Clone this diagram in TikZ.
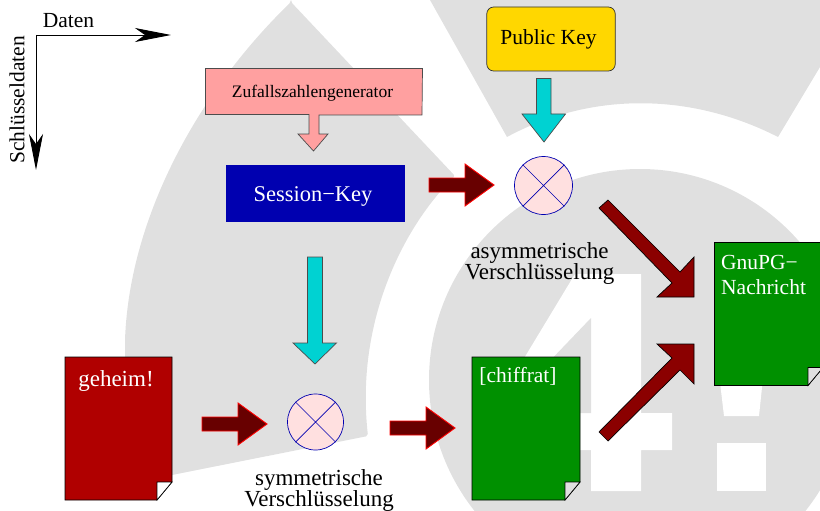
\documentclass[tikz,border=0pt]{standalone}
\usepackage{fontspec}
\setmainfont{Liberation Serif}
\usetikzlibrary{arrows.meta}
\definecolor{wm}{RGB}{224,224,224}
\definecolor{pinkbox}{RGB}{255,160,160}
\definecolor{navy}{RGB}{0,0,176}
\definecolor{gold}{RGB}{255,215,0}
\definecolor{cyanar}{RGB}{0,210,210}
\definecolor{maroon}{RGB}{139,0,0}
\definecolor{darkm}{RGB}{104,0,0}
\definecolor{docred}{RGB}{176,0,0}
\definecolor{docgreen}{RGB}{0,144,0}
\definecolor{mixfill}{RGB}{255,224,224}
\tikzset{
  x=1pt,y=-1pt,
  blockarrow/.style={draw=#1,line width=0.9pt,line join=miter},
  maxis/.style={line width=0.9pt,-{Stealth[length=36pt,width=14pt,inset=10pt]}},
  lab/.style={font=\fontsize{21.5}{22}\selectfont,inner sep=0pt,align=center},
  mixer/.style={circle,draw=navy,fill=mixfill,line width=0.7pt,minimum size=#1,inner sep=0pt},
  doc/.style={draw=black,line width=0.7pt,line join=miter},
  doctext/.style={text=white,inner sep=0pt,font=\fontsize{21.5}{25}\selectfont},
  caption/.style={inner sep=0pt,align=center,font=\fontsize{23}{21}\selectfont},
}
\newcommand{\docshape}[6]{% x0 y0 x1 y1 colour foldcolour
  \draw[doc,fill=#5] (#1,#2) -- (#3,#2) -- (#3,#4-18) -- (#3-15,#4) -- (#1,#4) -- cycle;
  \draw[doc,fill=#6] (#3,#4-18) -- (#3-15,#4-18) -- (#3-15,#4) -- cycle;
}
\begin{document}
\begin{tikzpicture}
\useasboundingbox (0,0) rectangle (820,511);
% watermark
\fill[wm,rounded corners=2pt] (291,2) -- (455,176) .. controls (405,225) and (355,320) .. (368,436)
  -- (172,475) -- (125,484) -- (125,340) .. controls (130,215) and (200,90) .. cycle;
\fill[wm] (430,0) -- (507,137) .. controls (590,92) and (690,92) .. (778,137) -- (820,67) -- (820,0) -- cycle;
\fill[wm] (640,380) circle (211);
\fill[white] (575,274) -- (641,274) -- (641,413) -- (672,413) -- (672,450) -- (641,450) -- (641,491) -- (591,491) -- (591,450) -- (491,450) -- (491,413) -- cycle;
\fill[wm] (591,318) -- (591,413) -- (500,413) -- cycle;
\fill[white] (715,340) -- (767,340) -- (759,416) -- (724,416) -- cycle;
\fill[white] (717,443) rectangle (766,491);
% axes
\coordinate (origin) at (36,35);
\coordinate (xend) at (171,35);
\coordinate (yend) at (36,170);
\draw[maxis] (origin) -- (xend);
\draw[maxis] (origin) -- (yend);
\node[lab] (datenlab) at (68.500,21) {Daten};
\node[lab,rotate=90] (schlab) at (17,100) {Schlüsseldaten};
% generator
\draw[blockarrow=black!70,line width=0.7pt,fill=pinkbox] (205.500,68.500) -- (422.500,68.500) -- (422,115) -- (319,115) -- (319,134) -- (328,134) -- (313.500,151) -- (298,134) -- (309,134) -- (309,114.500) -- (205.500,114.500) -- cycle;
\node[inner sep=0pt,font=\fontsize{17.500}{18}\selectfont] (zufall) at (312.500,93) {Zufallszahlengenerator};
% session
\node[fill=navy,minimum width=178.500pt,minimum height=56.500pt,inner sep=0pt,text=white,font=\fontsize{22.500}{24}\selectfont] (session) at (315.500,193.500) {\hspace*{-5pt}\raisebox{-2.5pt}[\height][\depth]{Session−Key}};
% public key
\node[draw=black!80,fill=gold,rounded corners=7pt,minimum width=128.500pt,minimum height=64pt,inner sep=0pt,line width=0.7pt,font=\fontsize{21.500}{24}\selectfont] (pubkey) at (551,39) {\hspace*{-5pt}Public Key};
% cyan arrows
\draw[blockarrow=black!70,line width=0.7pt,fill=cyanar] (536.500,78.500) -- (551,78.500) -- (551,114) -- (565.500,114) -- (544,142) -- (522,114) -- (536.500,114) -- cycle;
\draw[blockarrow=black!70,line width=0.7pt,fill=cyanar] (307.500,257) -- (322.500,257) -- (322.500,343) -- (336.500,343) -- (315,364) -- (293,343) -- (307.500,343) -- cycle;
% mixers
\node[mixer=58pt] (mixa) at (543.500,185.500) {};
\node[mixer=56pt] (mixs) at (315.500,422) {};
\draw[navy,line width=0.7pt] (mixa.north west) -- (mixa.south east) (mixa.north east) -- (mixa.south west);
\draw[navy,line width=0.7pt] (mixs.north west) -- (mixs.south east) (mixs.north east) -- (mixs.south west);
% red arrows
\draw[blockarrow=red,fill=darkm] (429,178) -- (465,178) -- (465,164) -- (494,185) -- (465,206) -- (465,192) -- (429,192) -- cycle;
\draw[blockarrow=red,fill=darkm] (202,417) -- (238,417) -- (238,403) -- (267,424) -- (238,445) -- (238,431) -- (202,431) -- cycle;
\draw[blockarrow=red,fill=darkm] (390,421) -- (426,421) -- (426,407) -- (455,428) -- (426,449) -- (426,435) -- (390,435) -- cycle;
% diagonal arrows
\draw[blockarrow=black,line width=0.7pt,fill=maroon] (599,208) -- (608,200) -- (680,272) -- (694,257) -- (694,297) -- (657,297) -- (672,283) -- cycle;
\draw[blockarrow=black,line width=0.7pt,fill=maroon] (599,432) -- (608,441) -- (680,370) -- (694,384) -- (694,344) -- (657,344) -- (672,358) -- cycle;
% documents
\docshape{65}{357}{172}{500}{docred}{white}
\node[doctext,font=\fontsize{23}{25}\selectfont] (geheim) at (116,381) {geheim!};
\docshape{472}{357}{580}{500}{docgreen}{wm}
\node[doctext] (chiffrat) at (518,376) {[chiffrat]};
\docshape{714.500}{242.500}{823}{385.500}{docgreen}{wm}
\node[doctext,align=left,anchor=north west] (gnupg) at (721,255) {GnuPG−\\Nachricht};
% labels
\node[caption] (asym) at (539.500,264) {asymmetrische\\Verschlüsselung};
\node[caption] (sym) at (319,490.500) {symmetrische\\Verschlüsselung};
\end{tikzpicture}
\end{document}
